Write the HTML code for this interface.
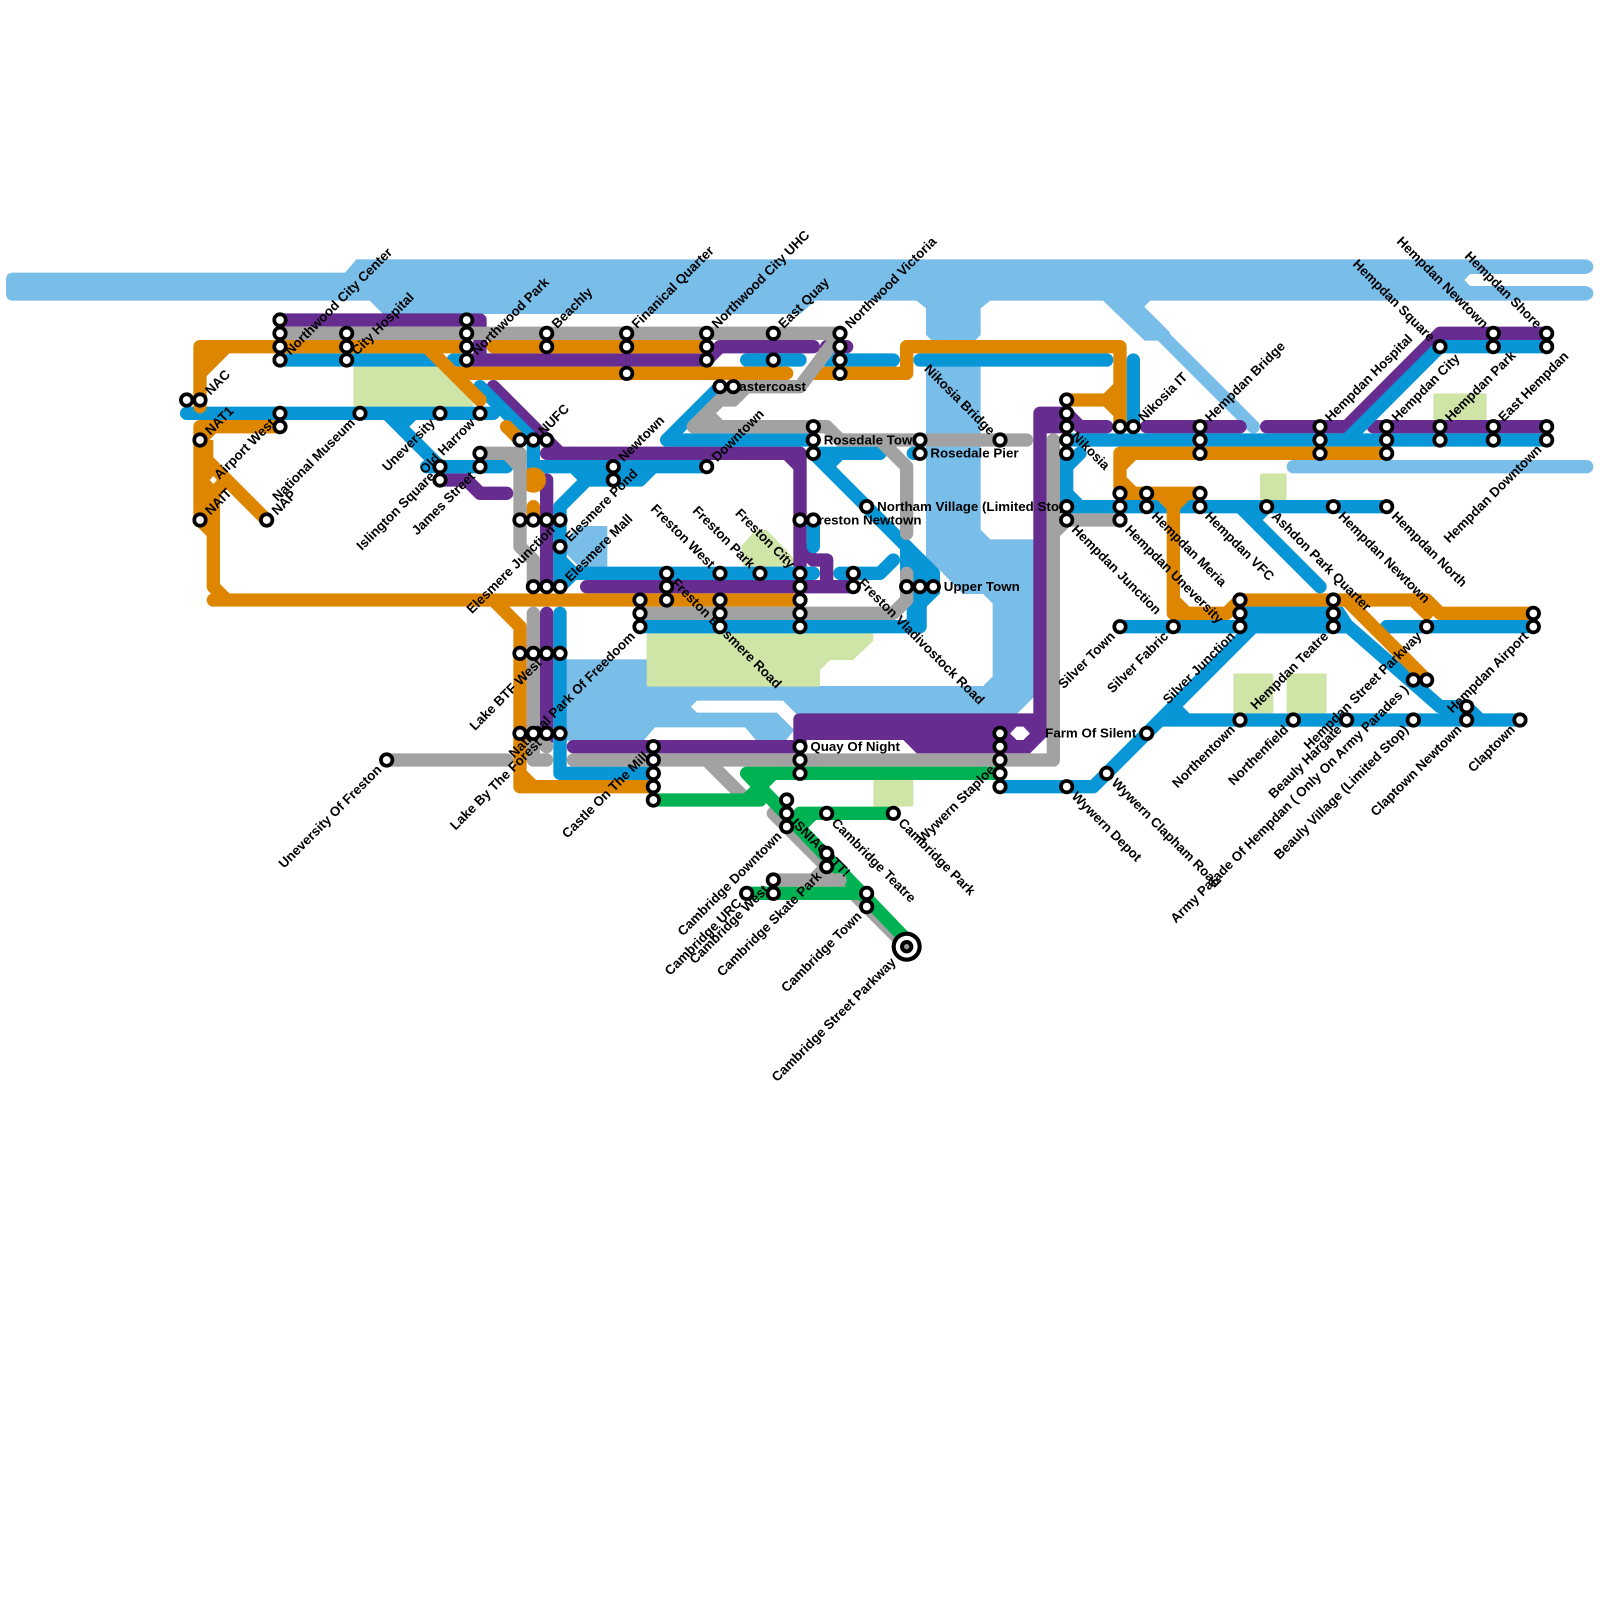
<!DOCTYPE html>
<html><head><meta charset="utf-8"><style>
html,body{margin:0;padding:0;background:#fff}
svg{display:block}
text{font-family:"Liberation Sans",sans-serif;font-weight:700;font-size:1px;fill:#000}
.e{text-anchor:end}
</style></head><body>
<svg xmlns="http://www.w3.org/2000/svg" width="1600" height="1600" viewBox="0 0 120 120">
<rect width="120" height="120" fill="#fff"/>
<!-- river -->
<g fill="#79bde9" stroke="#79bde9" stroke-width=".1" stroke-linejoin="round">
<path d="M1,20.5H25.9L26.75,19.5H119V20.5H110.25L109.75,21L110.25,21.5H119V22.5H86.25L85.75,23L87.7,24.95L87,25.5H85.875L82.75,22.5H74.25L73.5,23.1V25.1L73.1,25.5H69.9L69.5,25.1V23.1L68.75,22.5H61.1L60,23.5H28.75L27.75,22.5H1Q.5,22.5,.5,22V21Q.5,20.5,1,20.5Z"/>
<path d="M69.5,27.5H73.5V39.75L74.25,40.5H77.5V52.25L76.25,53.5H59.75L58.75,52.5H52.25L51.75,53L52.25,53.5H58.25L59.5,54.75L58.9,55.5H56.75L55.9,54.5H49.1L48.25,55.5H42.5V49.5H48.5V51.5H73.75L74.5,50.75V45.25L73.75,44.5H72.25L70.5,42.7L69.5,42.5Z"/>
<path d="M43.5,39.5H45.5V42.5H43.5L42.5,41.5V40.5Z"/>
</g>
<g fill="none" stroke="#79bde9" stroke-linecap="round" stroke-linejoin="round" stroke-width="1">
<path d="M109,20H119M109,22H119M97,35H119M87,25L94,32"/>
</g>
<!-- parks -->
<g fill="#cfe4a7" stroke="#cfe4a7" stroke-width=".3" stroke-linejoin="round">
<path d="M26.65,27.65H33.2L35.35,29.8V30.35H26.65Z"/>
<path d="M48.65,47.65H65.35V48L63.9,49.35H62.2L61.35,50.2V51.35H48.65Z"/>
<path d="M56.75,39.9H57.45L59.35,41.9V42.35H55.9L55.75,41Z"/>
<rect x="65.65" y="58.65" width="2.7" height="1.7"/>
<rect x="92.65" y="50.65" width="2.7" height="2.7"/>
<rect x="96.65" y="50.65" width="2.7" height="2.7"/>
<rect x="94.65" y="35.65" width="1.7" height="1.7"/>
<rect x="107.65" y="29.65" width="3.7" height="1.7"/>
</g>
<g fill="none" stroke-linecap="round" stroke-linejoin="round" stroke-width="1">
<!-- purple -->
<g stroke="#662c90">
<path d="M21,24H36V27M35,27H53L54,26H61M62,26H63.5"/>
<path d="M37,29L42,34H60V43M41,34H43M59,34L60,35M60,41L61,42H62V44M44,44H64"/>
<path d="M41,36V44M41,46V55.5M43,56H60"/>
<path d="M33,36H35L36,37H38"/>
<path d="M78,31H80L81,32H83M78,32H80M78,31V54.5M86,32H93M95,32H101L108,25H116M103,32H116"/>
</g>
<path fill="#662c90" stroke="none" d="M59.5,54Q59.5,53.5,60,53.5H78.5V55.25L77.25,56.5H68.75L67.75,55.5H60.5V56H59.5Z"/>
<path fill="#fff" stroke="none" d="M75.75,55L76.25,54.5H76.75L77.25,55L76.75,55.5H76.25Z"/>
<!-- blue -->
<g stroke="#0896d7">
<path d="M14,31H37M21,27H33M34,27H35M29,31L33,35M30,32L31,31M32,35H38"/>
<path d="M36,29L40,33V35M40,35H53M43,35L44,36H48L49,35M42,38L44,36M42,38V44M42,42L43,43H61M42,44L43,43"/>
<path d="M54,29L50,33H61M61,34H66M61,34L70,43M62,35L63,34M68.5,34H69"/>
<path d="M56,27H60M62,27H67M69,27H83M85,27V32"/>
<path d="M42,46V58H49M48,47H69V44M69,45L70,44V43M63,43H66L67,42M61,39V41"/>
<path d="M80,33H116M80,34V38H104M80,35L81,34M80,37L81,38M93,38L99,44M94,39L95,38"/>
<path d="M101,33L108,26H116"/>
<path d="M75,59H82L94,47M84,47H101M93,46H100L108,53H110L111,54M87,54H114M88,53L89,54M104,47H115"/>
</g>
<path fill="#0896d7" stroke="none" d="M67.5,41.2L68.2,40.8L70.5,43.2V44.5L69.5,45.5V47H68V43.5H67.5Z"/>
<path fill="#0896d7" stroke="none" d="M93,45.5H100.7L102,47.5H93Z"/>
<!-- orange -->
<g stroke="#df8600">
<path d="M15,30.5V26H35M32,26L36,30M17,26L15,28M34,28H59M37,26H53M61,28H68V26H84V32M80,30H83L84,29M83,30L84,31"/>
<path d="M15,32H21M15,32V39L16,40M15,33L16,32M15,34L20,39M15,38L17,36M16,35V44L17,45M16,45H60M37,45L39,47V59H49M39,58L40,59"/>
<path d="M38,32L39,33M40,38V39"/>
<path d="M84,34H104M84,34V37H90M84,35L85,34M84,36L85,37M87,37L88,38L89,37M88,38V46H92L93,45H107L108,46H115M88,45L89,46M106,45L107,46M101,45L107,51"/>
</g>
<path fill="#df8600" stroke="none" d="M15,26H17L15,28ZM15,33H16V39H15Z"/>
<circle cx="40" cy="36" r=".95" fill="#df8600" stroke="none"/>
<path fill="#fff" stroke="none" d="M16,35.7L16.27,36L16,36.3L15.73,36Z"/>
<!-- gray -->
<g stroke="#a2a2a2">
<path d="M21,25H63L60,29H55L52,32M53,31L54,32M52,32H62L63,33H77M66,33L68,35V40M54,30H55L56,29"/>
<path d="M36,34H39V41L40,42V44M38,34L39,35M40,46V57H41M40,55L41,56"/>
<path d="M29,57H38M43,57H79V33M80,39H84M79,40L80,39M53,57L56,60"/>
<path d="M48,46H67L68,45V43"/>
<path d="M58,61L68,71"/>
</g>
<!-- green -->
<g stroke="#00b251">
<path d="M56,58H75M49,60H57M56,60L58,58M56,58L68,70.5M60,61H67M61,61L60,62M56,67H65"/>
</g>
<g stroke="#a2a2a2">
<path d="M58,66H63M61,66L62,65"/>
</g>
</g>
<!-- labels -->
<text transform="translate(15 30) rotate(-45)" x=".78" y=".33">NAC</text>
<text transform="translate(15 33) rotate(-45)" x=".78" y=".33">NAT1</text>
<text transform="translate(15 39) rotate(-45)" x=".78" y=".33">NAIT</text>
<text transform="translate(20 39) rotate(-45)" x=".78" y=".33">NAP</text>
<text transform="translate(21 31) rotate(-45)" x="-.78" y=".33" class="e">Airport West</text>
<text transform="translate(27 31) rotate(-45)" x="-.78" y=".33" class="e">National Museum</text>
<text transform="translate(33 31) rotate(-45)" x="-.78" y=".33" class="e">Uneversity</text>
<text transform="translate(36 31) rotate(-45)" x="-.78" y=".33" class="e">Old Harrow</text>
<text transform="translate(33 35) rotate(-45)" x="-.78" y=".33" class="e">Islington Square</text>
<text transform="translate(36 35) rotate(-45)" x="-.78" y=".33" class="e">James Street</text>
<text transform="translate(21 27) rotate(-45)" x=".78" y=".33">Northwood City Center</text>
<text transform="translate(26 27) rotate(-45)" x=".78" y=".33">City Hospital</text>
<text transform="translate(35 27) rotate(-45)" x=".78" y=".33">Northwood Park</text>
<text transform="translate(41 25) rotate(-45)" x=".78" y=".33">Beachly</text>
<text transform="translate(47 25) rotate(-45)" x=".78" y=".33">Finanical Quarter</text>
<text transform="translate(53 25) rotate(-45)" x=".78" y=".33">Northwood City UHC</text>
<text transform="translate(58 25) rotate(-45)" x=".78" y=".33">East Quay</text>
<text transform="translate(63 25) rotate(-45)" x=".78" y=".33">Northwood Victoria</text>
<text transform="translate(40 33) rotate(-45)" x=".78" y=".33">NUFC</text>
<text transform="translate(46 35) rotate(-45)" x=".78" y=".33">Newtown</text>
<text transform="translate(53 35) rotate(-45)" x=".78" y=".33">Downtown</text>
<text transform="translate(42 41) rotate(-45)" x=".78" y=".33">Elesmere Pond</text>
<text transform="translate(42 44) rotate(-45)" x=".78" y=".33">Elesmere Mall</text>
<text transform="translate(42 39) rotate(-45)" x="-.78" y=".33" class="e">Elesmere Junction</text>
<text transform="translate(41 49) rotate(-45)" x="-.78" y=".33" class="e">Lake BTF West</text>
<text transform="translate(41 55) rotate(-45)" x="-.78" y=".33" class="e">Lake By The Forest</text>
<text transform="translate(48 47) rotate(-45)" x="-.78" y=".33" class="e">National Park Of Freedoom</text>
<text transform="translate(49 56) rotate(-45)" x="-.78" y=".33" class="e">Castle On The Mill</text>
<text transform="translate(29 57) rotate(-45)" x="-.78" y=".33" class="e">Uneversity Of Freston</text>
<text transform="translate(54 43) rotate(45)" x="-.78" y=".33" class="e">Freston West</text>
<text transform="translate(57 43) rotate(45)" x="-.78" y=".33" class="e">Freston Park</text>
<text transform="translate(60 43) rotate(45)" x="-.78" y=".33" class="e">Freston City</text>
<text transform="translate(50 43) rotate(45)" x=".78" y=".33">Freston Elesmere Road</text>
<text transform="translate(64 43) rotate(45)" x=".78" y=".33">Freston Vladivostock Road</text>
<text transform="translate(75 33) rotate(45)" x="-.78" y=".33" class="e">Nikosia Bridge</text>
<text transform="translate(80 32) rotate(45)" x=".78" y=".33">Nikosia</text>
<text x="54.78" y="29.33">Eastercoast</text>
<text x="61.78" y="33.33">Rosedale Town</text>
<text x="69.78" y="34.33">Rosedale Pier</text>
<text x="65.78" y="38.33">Northam Village (Limited Stop)</text>
<text x="60.78" y="39.33">Freston Newtown</text>
<text x="70.78" y="44.33">Upper Town</text>
<text x="60.78" y="56.33">Quay Of Night</text>
<text x="85.22" y="55.33" class="e">Farm Of Silent</text>
<text transform="translate(85 32) rotate(-45)" x=".78" y=".33">Nikosia IT</text>
<text transform="translate(90 32) rotate(-45)" x=".78" y=".33">Hempdan Bridge</text>
<text transform="translate(99 32) rotate(-45)" x=".78" y=".33">Hempdan Hospital</text>
<text transform="translate(104 32) rotate(-45)" x=".78" y=".33">Hempdan City</text>
<text transform="translate(108 32) rotate(-45)" x=".78" y=".33">Hempdan Park</text>
<text transform="translate(112 32) rotate(-45)" x=".78" y=".33">East Hempdan</text>
<text transform="translate(116 33) rotate(-45)" x="-.78" y=".33" class="e">Hempdan Downtown</text>
<text transform="translate(108 26) rotate(45)" x="-.78" y=".33" class="e">Hempdan Square</text>
<text transform="translate(112 25) rotate(45)" x="-.78" y=".33" class="e">Hempdan Newtown</text>
<text transform="translate(116 25) rotate(45)" x="-.78" y=".33" class="e">Hempdan Shore</text>
<text transform="translate(80 39) rotate(45)" x=".78" y=".33">Hempdan Junction</text>
<text transform="translate(84 39) rotate(45)" x=".78" y=".33">Hempdan Uneversity</text>
<text transform="translate(86 38) rotate(45)" x=".78" y=".33">Hempdan Meria</text>
<text transform="translate(90 38) rotate(45)" x=".78" y=".33">Hempdan VFC</text>
<text transform="translate(95 38) rotate(45)" x=".78" y=".33">Ashdon Park Quarter</text>
<text transform="translate(100 38) rotate(45)" x=".78" y=".33">Hempdan Newtown</text>
<text transform="translate(104 38) rotate(45)" x=".78" y=".33">Hempdan North</text>
<text transform="translate(84 47) rotate(-45)" x="-.78" y=".33" class="e">Silver Town</text>
<text transform="translate(88 47) rotate(-45)" x="-.78" y=".33" class="e">Silver Fabric</text>
<text transform="translate(93 47) rotate(-45)" x="-.78" y=".33" class="e">Silver Junction</text>
<text transform="translate(100 47) rotate(-45)" x="-.78" y=".33" class="e">Hempdan Teatre</text>
<text transform="translate(107 47) rotate(-45)" x="-.78" y=".33" class="e">Hempdan Street Parkway</text>
<text transform="translate(115 47) rotate(-45)" x="-.78" y=".33" class="e">Hempdan Airport</text>
<text transform="translate(106 51) rotate(-45)" x="-.78" y=".33" class="e">Army Parade Of Hempdan ( Only On Army Parades )</text>
<text transform="translate(93 54) rotate(-45)" x="-.78" y=".33" class="e">Northentown</text>
<text transform="translate(97 54) rotate(-45)" x="-.78" y=".33" class="e">Northenfield</text>
<text transform="translate(101 54) rotate(-45)" x="-.78" y=".33" class="e">Beauly Hargate</text>
<text transform="translate(106 54) rotate(-45)" x="-.78" y=".33" class="e">Beauly Village (Limited Stop)</text>
<text transform="translate(110 54) rotate(-45)" x="-.78" y=".33" class="e">Claptown Newtown</text>
<text transform="translate(114 54) rotate(-45)" x="-.78" y=".33" class="e">Claptown</text>
<text transform="translate(83 58) rotate(45)" x=".78" y=".33">Wywern Clapham Road</text>
<text transform="translate(80 59) rotate(45)" x=".78" y=".33">Wywern Depot</text>
<text transform="translate(75 57) rotate(-45)" x="-.78" y=".33" class="e">Wywern Staploe</text>
<text transform="translate(59 61) rotate(45)" x=".78" y=".33">ISNIACOTT!</text>
<text transform="translate(62 61) rotate(45)" x=".78" y=".33">Cambridge Teatre</text>
<text transform="translate(67 61) rotate(45)" x=".78" y=".33">Cambridge Park</text>
<text transform="translate(59 62) rotate(-45)" x="-.78" y=".33" class="e">Cambridge Downtown</text>
<text transform="translate(56 67) rotate(-45)" x="-.78" y=".33" class="e">Cambridge URC</text>
<text transform="translate(58 66) rotate(-45)" x="-.78" y=".33" class="e">Cambridge West</text>
<text transform="translate(62 65) rotate(-45)" x="-.78" y=".33" class="e">Cambridge Skate Park</text>
<text transform="translate(65 68) rotate(-45)" x="-.78" y=".33" class="e">Cambridge Town</text>
<text transform="translate(68 71) rotate(-45)" x="-1.4" y=".33" class="e">Cambridge Street Parkway</text>
<!-- stops -->
<g fill="#fff" stroke="#000" stroke-width=".28">
<circle cx="14" cy="30" r=".43"/><circle cx="15" cy="30" r=".43"/><circle cx="15" cy="33" r=".43"/><circle cx="15" cy="39" r=".43"/><circle cx="20" cy="39" r=".43"/>
<circle cx="21" cy="24" r=".43"/><circle cx="21" cy="25" r=".43"/><circle cx="21" cy="26" r=".43"/><circle cx="21" cy="27" r=".43"/><circle cx="21" cy="31" r=".43"/><circle cx="21" cy="32" r=".43"/>
<circle cx="26" cy="25" r=".43"/><circle cx="26" cy="26" r=".43"/><circle cx="26" cy="27" r=".43"/><circle cx="27" cy="31" r=".43"/><circle cx="33" cy="31" r=".43"/><circle cx="36" cy="31" r=".43"/>
<circle cx="35" cy="24" r=".43"/><circle cx="35" cy="25" r=".43"/><circle cx="35" cy="26" r=".43"/><circle cx="35" cy="27" r=".43"/>
<circle cx="41" cy="25" r=".43"/><circle cx="41" cy="26" r=".43"/><circle cx="47" cy="25" r=".43"/><circle cx="47" cy="26" r=".43"/><circle cx="47" cy="28" r=".43"/>
<circle cx="39" cy="33" r=".43"/><circle cx="40" cy="33" r=".43"/><circle cx="41" cy="33" r=".43"/><circle cx="36" cy="34" r=".43"/><circle cx="36" cy="35" r=".43"/><circle cx="33" cy="35" r=".43"/><circle cx="33" cy="36" r=".43"/><circle cx="46" cy="35" r=".43"/><circle cx="46" cy="36" r=".43"/>
<circle cx="39" cy="39" r=".43"/><circle cx="40" cy="39" r=".43"/><circle cx="41" cy="39" r=".43"/><circle cx="42" cy="39" r=".43"/><circle cx="42" cy="41" r=".43"/><circle cx="40" cy="44" r=".43"/><circle cx="41" cy="44" r=".43"/><circle cx="42" cy="44" r=".43"/>
<circle cx="39" cy="49" r=".43"/><circle cx="40" cy="49" r=".43"/><circle cx="41" cy="49" r=".43"/><circle cx="42" cy="49" r=".43"/><circle cx="39" cy="55" r=".43"/><circle cx="40" cy="55" r=".43"/><circle cx="41" cy="55" r=".43"/><circle cx="42" cy="55" r=".43"/>
<circle cx="48" cy="45" r=".43"/><circle cx="48" cy="46" r=".43"/><circle cx="48" cy="47" r=".43"/><circle cx="50" cy="43" r=".43"/><circle cx="50" cy="44" r=".43"/><circle cx="50" cy="45" r=".43"/>
<circle cx="54" cy="43" r=".43"/><circle cx="57" cy="43" r=".43"/><circle cx="54" cy="45" r=".43"/><circle cx="54" cy="46" r=".43"/><circle cx="54" cy="47" r=".43"/>
<circle cx="60" cy="43" r=".43"/><circle cx="60" cy="44" r=".43"/><circle cx="60" cy="45" r=".43"/><circle cx="60" cy="46" r=".43"/><circle cx="60" cy="47" r=".43"/>
<circle cx="60" cy="39" r=".43"/><circle cx="61" cy="39" r=".43"/><circle cx="65" cy="38" r=".43"/><circle cx="64" cy="43" r=".43"/><circle cx="64" cy="44" r=".43"/><circle cx="68" cy="44" r=".43"/><circle cx="69" cy="44" r=".43"/><circle cx="70" cy="44" r=".43"/>
<circle cx="49" cy="56" r=".43"/><circle cx="49" cy="57" r=".43"/><circle cx="49" cy="58" r=".43"/><circle cx="49" cy="59" r=".43"/><circle cx="49" cy="60" r=".43"/><circle cx="60" cy="56" r=".43"/><circle cx="60" cy="57" r=".43"/><circle cx="60" cy="58" r=".43"/>
<circle cx="53" cy="25" r=".43"/><circle cx="53" cy="26" r=".43"/><circle cx="53" cy="27" r=".43"/><circle cx="58" cy="25" r=".43"/><circle cx="58" cy="27" r=".43"/>
<circle cx="63" cy="25" r=".43"/><circle cx="63" cy="26" r=".43"/><circle cx="63" cy="27" r=".43"/><circle cx="63" cy="28" r=".43"/><circle cx="54" cy="29" r=".43"/><circle cx="55" cy="29" r=".43"/>
<circle cx="61" cy="32" r=".43"/><circle cx="61" cy="33" r=".43"/><circle cx="61" cy="34" r=".43"/><circle cx="53" cy="35" r=".43"/><circle cx="69" cy="33" r=".43"/><circle cx="69" cy="34" r=".43"/><circle cx="75" cy="33" r=".43"/>
<circle cx="80" cy="30" r=".43"/><circle cx="80" cy="31" r=".43"/><circle cx="80" cy="32" r=".43"/><circle cx="80" cy="33" r=".43"/><circle cx="80" cy="34" r=".43"/><circle cx="80" cy="38" r=".43"/><circle cx="80" cy="39" r=".43"/>
<circle cx="84" cy="32" r=".43"/><circle cx="85" cy="32" r=".43"/><circle cx="90" cy="32" r=".43"/><circle cx="90" cy="33" r=".43"/><circle cx="90" cy="34" r=".43"/><circle cx="99" cy="32" r=".43"/><circle cx="99" cy="33" r=".43"/><circle cx="99" cy="34" r=".43"/><circle cx="104" cy="32" r=".43"/><circle cx="104" cy="33" r=".43"/><circle cx="104" cy="34" r=".43"/>
<circle cx="108" cy="32" r=".43"/><circle cx="108" cy="33" r=".43"/><circle cx="112" cy="32" r=".43"/><circle cx="112" cy="33" r=".43"/><circle cx="116" cy="32" r=".43"/><circle cx="116" cy="33" r=".43"/>
<circle cx="108" cy="26" r=".43"/><circle cx="112" cy="25" r=".43"/><circle cx="112" cy="26" r=".43"/><circle cx="116" cy="25" r=".43"/><circle cx="116" cy="26" r=".43"/>
<circle cx="84" cy="37" r=".43"/><circle cx="84" cy="38" r=".43"/><circle cx="84" cy="39" r=".43"/><circle cx="86" cy="37" r=".43"/><circle cx="86" cy="38" r=".43"/><circle cx="90" cy="37" r=".43"/><circle cx="90" cy="38" r=".43"/><circle cx="95" cy="38" r=".43"/><circle cx="100" cy="38" r=".43"/><circle cx="104" cy="38" r=".43"/>
<circle cx="93" cy="45" r=".43"/><circle cx="93" cy="46" r=".43"/><circle cx="93" cy="47" r=".43"/><circle cx="100" cy="45" r=".43"/><circle cx="100" cy="46" r=".43"/><circle cx="100" cy="47" r=".43"/><circle cx="84" cy="47" r=".43"/><circle cx="88" cy="47" r=".43"/><circle cx="107" cy="47" r=".43"/><circle cx="115" cy="46" r=".43"/><circle cx="115" cy="47" r=".43"/>
<circle cx="106" cy="51" r=".43"/><circle cx="107" cy="51" r=".43"/><circle cx="110" cy="53" r=".43"/><circle cx="110" cy="54" r=".43"/><circle cx="114" cy="54" r=".43"/><circle cx="106" cy="54" r=".43"/><circle cx="101" cy="54" r=".43"/><circle cx="97" cy="54" r=".43"/><circle cx="93" cy="54" r=".43"/><circle cx="86" cy="55" r=".43"/><circle cx="83" cy="58" r=".43"/><circle cx="80" cy="59" r=".43"/>
<circle cx="75" cy="55" r=".43"/><circle cx="75" cy="56" r=".43"/><circle cx="75" cy="57" r=".43"/><circle cx="75" cy="58" r=".43"/><circle cx="75" cy="59" r=".43"/>
<circle cx="59" cy="60" r=".43"/><circle cx="59" cy="61" r=".43"/><circle cx="59" cy="62" r=".43"/><circle cx="62" cy="61" r=".43"/><circle cx="67" cy="61" r=".43"/><circle cx="62" cy="64" r=".43"/><circle cx="62" cy="65" r=".43"/><circle cx="58" cy="66" r=".43"/><circle cx="58" cy="67" r=".43"/><circle cx="56" cy="67" r=".43"/><circle cx="65" cy="67" r=".43"/><circle cx="65" cy="68" r=".43"/><circle cx="29" cy="57" r=".43"/>
</g>
<circle cx="68" cy="71" r="1.13" fill="#000"/><circle cx="68" cy="71" r=".82" fill="#fff"/><circle cx="68" cy="71" r=".5" fill="#000"/><circle cx="68" cy="71" r=".2" fill="#999"/>
</svg>
</body></html>
